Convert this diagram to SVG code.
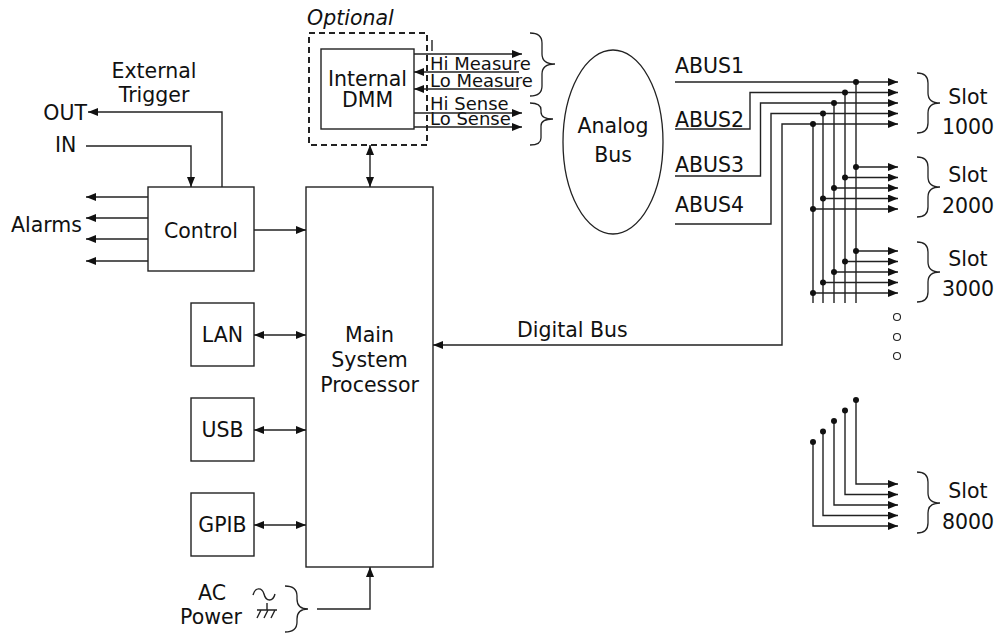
<svg xmlns="http://www.w3.org/2000/svg" width="1006" height="633" viewBox="0 0 1006 633">
<style>
.t{font-family:"DejaVu Sans","Liberation Sans",sans-serif;font-size:20.5px;fill:#111}
.s{font-family:"DejaVu Sans","Liberation Sans",sans-serif;font-size:18px;fill:#111}
.m{text-anchor:middle}
.e{text-anchor:end}
.box{fill:#fff;stroke:#222;stroke-width:1.4}
.ln{fill:none;stroke:#222;stroke-width:1.4}
.a{marker-end:url(#ah)}
.b{marker-start:url(#ah);marker-end:url(#ah)}
.dot{fill:#111}
.br{fill:none;stroke:#222;stroke-width:1.3}
</style>
<defs>
<marker id="ah" markerUnits="userSpaceOnUse" markerWidth="10" markerHeight="8" refX="10" refY="4" orient="auto-start-reverse">
<path d="M0,0 L10,4 L0,8 z" fill="#111"/>
</marker>
</defs>
<rect width="1006" height="633" fill="#fff"/>

<g id="trigger-labels">
<text class="t m" x="154" y="78">External</text>
<text class="t m" x="154" y="102">Trigger</text>
<text class="t e" x="87" y="119.5">OUT</text>
<text class="t" x="55" y="151.5">IN</text>
<text class="t e" x="82" y="232">Alarms</text>
</g>

<g id="control">
<rect class="box" x="148" y="187" width="106" height="84"/>
<text class="t m" x="201" y="238">Control</text>
</g>

<g id="lan">
<rect class="box" x="191" y="303" width="63" height="63"/>
<text class="t m" x="222.5" y="342">LAN</text>
</g>
<g id="usb">
<rect class="box" x="191" y="398" width="63" height="63"/>
<text class="t m" x="222.5" y="437">USB</text>
</g>
<g id="gpib">
<rect class="box" x="191" y="493" width="63" height="63"/>
<text class="t m" x="222.5" y="532">GPIB</text>
</g>

<g id="main-processor">
<rect class="box" x="306" y="187" width="127" height="380"/>
<text class="t m" x="369.5" y="342">Main</text>
<text class="t m" x="369.5" y="367">System</text>
<text class="t m" x="369.5" y="392">Processor</text>
</g>

<g id="optional-dmm">
<text class="t" x="307" y="25" font-style="italic">Optional</text>
<rect x="309" y="33" width="118" height="112" fill="none" stroke="#222" stroke-width="2" stroke-dasharray="6,4"/>
<rect class="box" x="321" y="49" width="93" height="80"/>
<text class="t m" x="367.5" y="86">Internal</text>
<text class="t m" x="367.5" y="106.5">DMM</text>
</g>

<g id="dmm-signals">
<text class="s" x="430" y="70">Hi Measure</text>
<text class="s" x="430" y="87">Lo Measure</text>
<text class="s" x="430" y="109.5">Hi Sense</text>
<text class="s" x="430" y="124.5">Lo Sense</text>
<line class="ln" x1="432" y1="40" x2="432" y2="51"/>
</g>

<g id="analog-bus">
<ellipse cx="613" cy="142" rx="50" ry="92" fill="none" stroke="#222" stroke-width="1.3"/>
<text class="t m" x="613" y="133">Analog</text>
<text class="t m" x="613" y="162">Bus</text>
</g>

<g id="abus-labels">
<text class="t" x="675" y="73">ABUS1</text>
<text class="t" x="675" y="126.5">ABUS2</text>
<text class="t" x="675" y="171.5">ABUS3</text>
<text class="t" x="675" y="211.5">ABUS4</text>
<text class="t" x="517" y="337">Digital Bus</text>
</g>

<g id="slot-1000">
<path class="br" d="M917,73 Q928,73 928,83 L928,93 Q928,103 940,103 Q928,103 928,113 L928,123 Q928,133 917,133"/>
<text class="t m" x="968" y="104">Slot</text>
<text class="t m" x="968" y="134">1000</text>
</g>
<g id="slot-2000">
<path class="br" d="M917,157 Q928,157 928,167 L928,177 Q928,187 940,187 Q928,187 928,197 L928,207 Q928,217 917,217"/>
<text class="t m" x="968" y="182">Slot</text>
<text class="t m" x="968" y="213">2000</text>
</g>
<g id="slot-3000">
<path class="br" d="M917,242 Q928,242 928,252 L928,262 Q928,272 940,272 Q928,272 928,282 L928,292 Q928,302 917,302"/>
<text class="t m" x="968" y="265.5">Slot</text>
<text class="t m" x="968" y="295.5">3000</text>
</g>
<g id="slot-8000">
<path class="br" d="M917,472 Q928,472 928,482 L928,493 Q928,503 940,503 Q928,503 928,513 L928,523 Q928,533 917,533"/>
<text class="t m" x="968" y="497.5">Slot</text>
<text class="t m" x="968" y="528.5">8000</text>
</g>

<g id="ellipsis">
<circle cx="897" cy="317" r="3.5" fill="none" stroke="#222" stroke-width="1.1"/>
<circle cx="897" cy="337" r="3.5" fill="none" stroke="#222" stroke-width="1.1"/>
<circle cx="897" cy="356" r="3.5" fill="none" stroke="#222" stroke-width="1.1"/>
</g>

<g id="ac-power">
<text class="t m" x="212" y="600">AC</text>
<text class="t" x="180" y="624">Power</text>
<path class="ln" stroke-width="1.2" d="M253,595 C255,587 262,587 264,594 C266,602 273,602 275,594"/>
<path class="ln" stroke-width="1.2" d="M267,603 V610 M257,610 H277 M261,610 L257,618 M268,610 L264,618 M275,610 L271,618"/>
<path class="br" d="M285,586 Q297,586 297,596 L297,599 Q297,609 308,609 Q297,609 297,619 L297,622 Q297,632 285,632"/>
</g>

<g id="dmm-braces">
<path class="br" d="M530,33 Q542,33 542,43 L542,54 Q542,64 555,64 Q542,64 542,74 L542,86 Q542,96 530,96"/>
<path class="br" d="M530,103 Q541,103 541,110 L541,112 Q541,119 553,119 Q541,119 541,126 L541,138 Q541,145 530,145"/>
</g>

<g id="connectors">
<path class="ln a" d="M222,187 V112 H88"/>
<path class="ln a" d="M86,146 H191 V187"/>
<path class="ln a" d="M148,197 H86"/>
<path class="ln a" d="M148,218 H86"/>
<path class="ln a" d="M148,239 H86"/>
<path class="ln a" d="M148,261 H86"/>
<path class="ln a" d="M254,230 H306"/>
<path class="ln b" d="M254,335 H306"/>
<path class="ln b" d="M254,430 H306"/>
<path class="ln b" d="M254,525 H306"/>
<path class="ln b" d="M370,145 V187"/>
<path class="ln a" d="M317,609 H370 V567"/>
<path class="ln a" d="M414,54 H522"/>
<path class="ln a" d="M519,72 H414"/>
<path class="ln a" d="M519,89 H414"/>
<path class="ln a" d="M414,113 H522"/>
<path class="ln a" d="M414,127 H522"/>

<path class="ln a" d="M675,82 H898"/>
<path class="ln a" d="M675,129 H750 V92.5 H898"/>
<path class="ln a" d="M675,176 H760.5 V103 H898"/>
<path class="ln a" d="M675,224 H771 V113.5 H898"/>
<path class="ln b" d="M898,124 H782 V345 H433"/>

<path class="ln" d="M856,82 V303 M845,92.5 V303 M834,103 V303 M823,113.5 V303 M813,124 V303"/>

<path class="ln a" d="M856,167 H898"/>
<path class="ln a" d="M845,177.5 H898"/>
<path class="ln a" d="M834,188 H898"/>
<path class="ln a" d="M823,198.5 H898"/>
<path class="ln a" d="M813,209 H898"/>

<path class="ln a" d="M856,251 H898"/>
<path class="ln a" d="M845,261.5 H898"/>
<path class="ln a" d="M834,272 H898"/>
<path class="ln a" d="M823,282.5 H898"/>
<path class="ln a" d="M813,293 H898"/>

<path class="ln a" d="M856,400 V484 H898"/>
<path class="ln a" d="M845,410.5 V494.5 H898"/>
<path class="ln a" d="M834,421 V505 H898"/>
<path class="ln a" d="M823,431.5 V515.5 H898"/>
<path class="ln a" d="M813,442 V526 H898"/>

<g class="dot">
<circle cx="856" cy="82" r="3"/><circle cx="845" cy="92.5" r="3"/><circle cx="834" cy="103" r="3"/><circle cx="823" cy="113.5" r="3"/><circle cx="813" cy="124" r="3"/>
<circle cx="856" cy="167" r="3"/><circle cx="845" cy="177.5" r="3"/><circle cx="834" cy="188" r="3"/><circle cx="823" cy="198.5" r="3"/><circle cx="813" cy="209" r="3"/>
<circle cx="856" cy="251" r="3"/><circle cx="845" cy="261.5" r="3"/><circle cx="834" cy="272" r="3"/><circle cx="823" cy="282.5" r="3"/><circle cx="813" cy="293" r="3"/>
<circle cx="856" cy="400" r="3"/><circle cx="845" cy="410.5" r="3"/><circle cx="834" cy="421" r="3"/><circle cx="823" cy="431.5" r="3"/><circle cx="813" cy="442" r="3"/>
</g>
</g>
</svg>
